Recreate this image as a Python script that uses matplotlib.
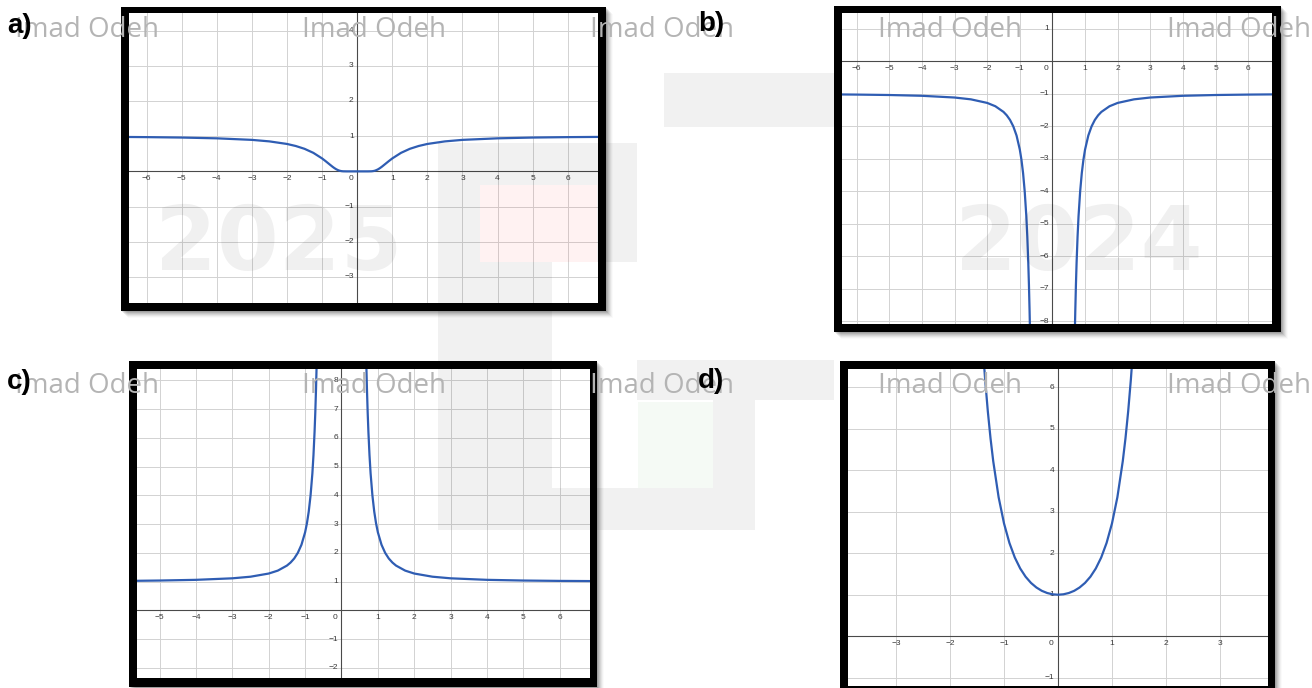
import numpy as np
import matplotlib.pyplot as plt
from matplotlib.patches import Rectangle

# ---- values ----
# a)
a_x = [-6.5, -6, -5, -4, -3, -2.5, -2, -1.75, -1.5, -1.25, -1, -0.9, -0.8, -0.7, -0.65, -0.6, -0.55,
       -0.5, -0.45, -0.4, -0.3, 0, 0.3, 0.4, 0.45, 0.5, 0.55, 0.6, 0.65, 0.7, 0.8, 0.9, 1,
       1.25, 1.5, 1.75, 2, 2.5, 3, 4, 5, 6, 6.86]
a_y = [0.977, 0.973, 0.961, 0.939, 0.895, 0.852, 0.779, 0.721, 0.641, 0.527, 0.368, 0.291, 0.210,
       0.130, 0.094, 0.062, 0.037, 0.018, 0.007, 0.002, 0, 0, 0, 0.002, 0.007, 0.018, 0.037,
       0.062, 0.094, 0.130, 0.210, 0.291, 0.368, 0.527, 0.641, 0.721, 0.779, 0.852, 0.895,
       0.939, 0.961, 0.973, 0.979]

# b)  two branches
b_left_x = [-6.45, -6, -5, -4, -3, -2.5, -2, -1.75, -1.5, -1.4, -1.3, -1.2, -1.1, -1.0, -0.95,
            -0.9, -0.85, -0.8, -0.77, -0.74, -0.72, -0.7, -0.69]
b_left_y = [-1.024, -1.028, -1.041, -1.065, -1.118, -1.174, -1.284, -1.386, -1.560, -1.666,
            -1.807, -2.004, -2.286, -2.718, -3.03, -3.44, -4.00, -4.77, -5.40, -6.21, -6.88,
            -7.70, -8.17]
b_right_x = [0.69, 0.7, 0.72, 0.74, 0.77, 0.8, 0.85, 0.9, 0.95, 1.0, 1.1, 1.2, 1.3, 1.4, 1.5,
             1.75, 2, 2.5, 3, 4, 5, 6, 6.73]
b_right_y = [-8.17, -7.70, -6.88, -6.21, -5.40, -4.77, -4.00, -3.44, -3.03, -2.718, -2.286,
             -2.004, -1.807, -1.666, -1.560, -1.386, -1.284, -1.174, -1.118, -1.065, -1.041,
             -1.028, -1.022]

# c)  two branches
c_left_x = [-5.62, -5, -4, -3, -2.5, -2, -1.75, -1.5, -1.4, -1.3, -1.2, -1.1, -1.0, -0.95, -0.9,
            -0.85, -0.8, -0.77, -0.74, -0.72, -0.7, -0.68]
c_left_y = [1.032, 1.041, 1.065, 1.118, 1.174, 1.284, 1.386, 1.560, 1.666, 1.807, 2.004, 2.286,
            2.718, 3.03, 3.44, 4.00, 4.77, 5.40, 6.21, 6.88, 7.70, 8.69]
c_right_x = [0.68, 0.7, 0.72, 0.74, 0.77, 0.8, 0.85, 0.9, 0.95, 1.0, 1.1, 1.2, 1.3, 1.4, 1.5,
             1.75, 2, 2.5, 3, 4, 5, 6, 6.83]
c_right_y = [8.69, 7.70, 6.88, 6.21, 5.40, 4.77, 4.00, 3.44, 3.03, 2.718, 2.286, 2.004, 1.807,
             1.666, 1.560, 1.386, 1.284, 1.174, 1.118, 1.065, 1.041, 1.028, 1.022]

# d)
d_x = [-1.4, -1.35, -1.3, -1.25, -1.2, -1.1, -1.0, -0.9, -0.8, -0.7, -0.6, -0.5, -0.4, -0.3, -0.2,
       -0.1, 0, 0.1, 0.2, 0.3, 0.4, 0.5, 0.6, 0.7, 0.8, 0.9, 1.0, 1.1, 1.2, 1.25, 1.3, 1.35, 1.4]
d_y = [7.10, 6.19, 5.42, 4.77, 4.22, 3.35, 2.718, 2.248, 1.896, 1.632, 1.433, 1.284, 1.174, 1.094,
       1.041, 1.010, 1.0, 1.010, 1.041, 1.094, 1.174, 1.284, 1.433, 1.632, 1.896, 2.248, 2.718,
       3.35, 4.22, 4.77, 5.42, 6.19, 7.10]

a_xticks = [-6, -5, -4, -3, -2, -1, 1, 2, 3, 4, 5, 6]
a_yticks = [-3, -2, -1, 1, 2, 3, 4]
b_xticks = [-6, -5, -4, -3, -2, -1, 1, 2, 3, 4, 5, 6]
b_yticks = [1, -1, -2, -3, -4, -5, -6, -7, -8]
c_xticks = [-5, -4, -3, -2, -1, 1, 2, 3, 4, 5, 6]
c_yticks = [-2, -1, 1, 2, 3, 4, 5, 6, 7, 8]
d_xticks = [-3, -2, -1, 1, 2, 3]
d_yticks = [-1, 1, 2, 3, 4, 5, 6]

W, H = 1312, 688
BLUE = '#2f5db3'

fig = plt.figure(figsize=(W / 100, H / 100), dpi=100)
fig.patch.set_facecolor('white')


def frac(x0, y0, x1, y1):
    # pixel box (y measured from the top) -> figure fraction [l, b, w, h]
    return [x0 / W, 1 - y1 / H, (x1 - x0) / W, (y1 - y0) / H]


def px_rect(x0, y0, x1, y1, **kw):
    l, b, w, h = frac(x0, y0, x1, y1)
    r = Rectangle((l, b), w, h, transform=fig.transFigure, lw=0, **kw)
    fig.add_artist(r)
    return r


def panel(inner, outer, xlim, ylim, xticks, yticks, curves):
    # drop shadow + thick black frame
    x0, y0, x1, y1 = outer
    for k, a in zip(range(1, 8), [0.10, 0.09, 0.08, 0.06, 0.05, 0.035, 0.02]):
        px_rect(x0 + k, y0 + k, x1 + k, y1 + k, color='black', alpha=a, zorder=-3)
    px_rect(x0, y0, x1, y1, color='black', zorder=-2)

    ax = fig.add_axes(frac(*inner))
    ax.set_facecolor('white')
    ax.set_xlim(*xlim)
    ax.set_ylim(*ylim)
    ax.set_xticks(np.arange(np.ceil(xlim[0]), np.floor(xlim[1]) + 1))
    ax.set_yticks(np.arange(np.ceil(ylim[0]), np.floor(ylim[1]) + 1))
    ax.grid(True, color='#d2d2d2', lw=0.7)
    ax.tick_params(length=0, labelbottom=False, labelleft=False)
    for s in ax.spines.values():
        s.set_visible(False)
    ax.axhline(0, color='#4a4a4a', lw=0.8, zorder=2)
    ax.axvline(0, color='#4a4a4a', lw=0.8, zorder=2)

    for t in xticks:
        ax.annotate(str(t).replace('-', '\u2212'), xy=(t, 0), xytext=(0, -2.5),
                    textcoords='offset points', ha='center', va='top',
                    fontsize=6, color='#3a3a3a', family='Liberation Sans')
    for t in yticks:
        ax.annotate(str(t).replace('-', '\u2212'), xy=(0, t), xytext=(-2.5, 0),
                    textcoords='offset points', ha='right', va='center',
                    fontsize=6, color='#3a3a3a', family='Liberation Sans')
    ax.annotate('0', xy=(0, 0), xytext=(-3, -2.5), textcoords='offset points',
                ha='right', va='top', fontsize=6, color='#3a3a3a', family='Liberation Sans')

    for cx, cy in curves:
        ax.plot(cx, cy, color=BLUE, lw=1.6, solid_joinstyle='round', zorder=3)
    return ax


panel((129, 13, 598, 303), (121, 7, 606, 311), (-6.5, 6.86), (-3.74, 4.5),
      a_xticks, a_yticks, [(a_x, a_y)])
panel((842, 13, 1272, 324), (834, 6, 1281, 332), (-6.45, 6.73), (-8.08, 1.48),
      b_xticks, b_yticks, [(b_left_x, b_left_y), (b_right_x, b_right_y)])
panel((137, 369, 590, 678), (129, 361, 597, 687), (-5.62, 6.83), (-2.35, 8.4),
      c_xticks, c_yticks, [(c_left_x, c_left_y), (c_right_x, c_right_y)])
panel((848, 369, 1268, 686), (840, 361, 1275, 692), (-3.89, 3.89), (-1.2, 6.44),
      d_xticks, d_yticks, [(d_x, d_y)])

# ---- faint background watermark (logo blocks, years) ----
GR = dict(color='black', alpha=0.055, zorder=1)
px_rect(438, 143, 637, 185, **GR)
px_rect(438, 185, 480, 262, **GR)
px_rect(597, 185, 637, 262, **GR)
px_rect(438, 262, 552, 488, **GR)
px_rect(637, 360, 834, 400, **GR)
px_rect(713, 400, 755, 488, **GR)
px_rect(438, 488, 755, 530, **GR)
px_rect(664, 73, 834, 127, **GR)
px_rect(480, 185, 597, 262, color='red', alpha=0.05, zorder=1)
px_rect(638, 402, 713, 488, color='green', alpha=0.04, zorder=1)

fig.text(155 / W, 1 - 270 / H, '2025', fontsize=64, fontweight='bold', color='black',
         alpha=0.06, ha='left', va='baseline', zorder=1, family='DejaVu Sans')
fig.text(955 / W, 1 - 270 / H, '2024', fontsize=64, fontweight='bold', color='black',
         alpha=0.06, ha='left', va='baseline', zorder=1, family='DejaVu Sans')

# "Imad Odeh" name watermark, two rows
for bx in [15, 302, 590, 878, 1167]:
    for by in [37, 393]:
        fig.text(bx / W, 1 - by / H, 'Imad Odeh', fontsize=20, color='#b4b4b4',
                 ha='left', va='baseline', zorder=2, family='Open Sans')

# panel letters
for lab, lx, ly in [('a)', 7, 33), ('b)', 698, 31), ('c)', 7, 389), ('d)', 698, 388)]:
    fig.text(lx / W, 1 - ly / H, lab, fontsize=20, fontweight='bold', color='black',
             ha='left', va='baseline', zorder=4, family='Liberation Sans')

fig.savefig('out.png', dpi=100)
